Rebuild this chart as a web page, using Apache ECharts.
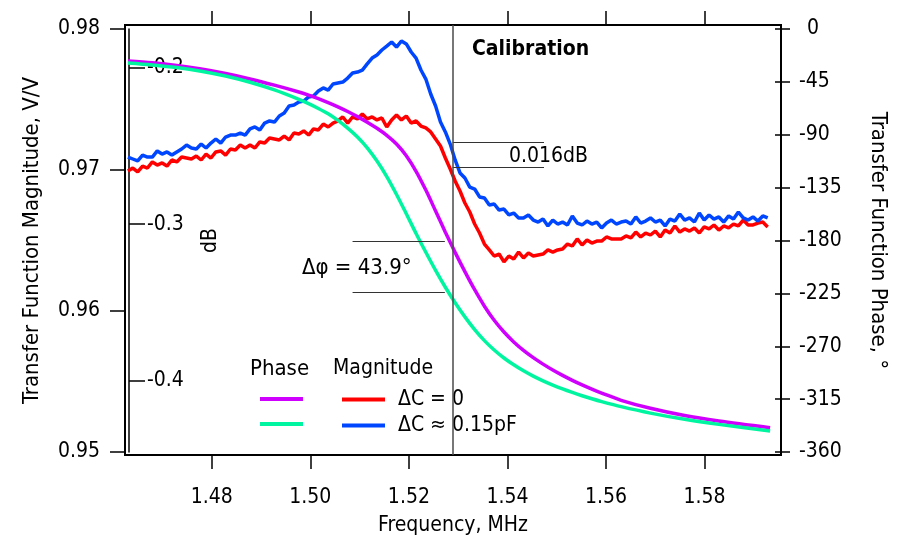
<!DOCTYPE html>
<html>
<head>
<meta charset="utf-8">
<script src="https://cdn.jsdelivr.net/npm/echarts@6/dist/echarts.min.js"></script>
<style>
  html, body { margin: 0; padding: 0; background: #fff; }
  #chart { width: 897px; height: 541px; }
</style>
</head>
<body>
<div id="chart"></div>
<script>
const FONT = '"DejaVu Sans Condensed", "DejaVu Sans", sans-serif';

// Sweep frequencies of the magnitude traces, MHz
const magFreq = [
  1.463, 1.464, 1.465, 1.466, 1.467, 1.468, 1.469, 1.470, 1.471, 1.472,
  1.473, 1.474, 1.475, 1.476, 1.477, 1.478, 1.479, 1.480, 1.481, 1.482,
  1.483, 1.484, 1.485, 1.486, 1.487, 1.488, 1.489, 1.490, 1.491, 1.492,
  1.493, 1.494, 1.495, 1.496, 1.497, 1.498, 1.499, 1.500, 1.501, 1.502,
  1.503, 1.504, 1.505, 1.506, 1.507, 1.508, 1.509, 1.510, 1.511, 1.512,
  1.513, 1.514, 1.515, 1.516, 1.517, 1.518, 1.519, 1.520, 1.521, 1.522,
  1.523, 1.524, 1.525, 1.526, 1.527, 1.528, 1.529, 1.530, 1.531, 1.532,
  1.533, 1.534, 1.535, 1.536, 1.537, 1.538, 1.539, 1.540, 1.541, 1.542,
  1.543, 1.544, 1.545, 1.546, 1.547, 1.548, 1.549, 1.550, 1.551, 1.552,
  1.553, 1.554, 1.555, 1.556, 1.557, 1.558, 1.559, 1.560, 1.561, 1.562,
  1.563, 1.564, 1.565, 1.566, 1.567, 1.568, 1.569, 1.570, 1.571, 1.572,
  1.573, 1.574, 1.575, 1.576, 1.577, 1.578, 1.579, 1.580, 1.581, 1.582,
  1.583, 1.584, 1.585, 1.586, 1.587, 1.588, 1.589, 1.590, 1.591, 1.592,
  1.593, 1.594
];

// Magnitude, V/V, with ΔC = 0
const magRef = [
  0.96993, 0.97014, 0.96986, 0.97028, 0.97014, 0.97057, 0.97035, 0.97050, 0.97028, 0.97071,
  0.97057, 0.97092, 0.97085, 0.97078, 0.97099, 0.97071, 0.97113, 0.97085, 0.97128, 0.97135,
  0.97106, 0.97149, 0.97142, 0.97177, 0.97156, 0.97177, 0.97156, 0.97199, 0.97191, 0.97227,
  0.97220, 0.97213, 0.97241, 0.97213, 0.97262, 0.97255, 0.97277, 0.97248, 0.97291, 0.97284,
  0.97326, 0.97305, 0.97333, 0.97348, 0.97376, 0.97333, 0.97376, 0.97362, 0.97397, 0.97362,
  0.97376, 0.97355, 0.97369, 0.97305, 0.97355, 0.97390, 0.97355, 0.97383, 0.97333, 0.97348,
  0.97312, 0.97298, 0.97270, 0.97220, 0.97170, 0.97085, 0.97007, 0.96922, 0.96851, 0.96766,
  0.96702, 0.96617, 0.96553, 0.96475, 0.96433, 0.96390, 0.96404, 0.96348, 0.96390, 0.96369,
  0.96418, 0.96376, 0.96411, 0.96390, 0.96397, 0.96404, 0.96433, 0.96418, 0.96433, 0.96440,
  0.96475, 0.96461, 0.96511, 0.96468, 0.96504, 0.96482, 0.96496, 0.96496, 0.96525, 0.96511,
  0.96511, 0.96511, 0.96532, 0.96518, 0.96560, 0.96525, 0.96553, 0.96539, 0.96567, 0.96525,
  0.96574, 0.96553, 0.96603, 0.96560, 0.96582, 0.96567, 0.96589, 0.96553, 0.96596, 0.96582,
  0.96610, 0.96574, 0.96603, 0.96589, 0.96617, 0.96603, 0.96645, 0.96610, 0.96610, 0.96624,
  0.96631, 0.96596
];

// Magnitude, V/V, with ΔC ≈ 0.15 pF
const magCal = [
  0.97092, 0.97078, 0.97064, 0.97106, 0.97092, 0.97092, 0.97135, 0.97113, 0.97128, 0.97106,
  0.97128, 0.97149, 0.97177, 0.97156, 0.97149, 0.97184, 0.97156, 0.97191, 0.97220, 0.97191,
  0.97234, 0.97248, 0.97248, 0.97262, 0.97248, 0.97291, 0.97305, 0.97284, 0.97333, 0.97348,
  0.97340, 0.97383, 0.97404, 0.97454, 0.97461, 0.97482, 0.97489, 0.97518, 0.97525, 0.97560,
  0.97582, 0.97567, 0.97610, 0.97617, 0.97624, 0.97652, 0.97688, 0.97695, 0.97709, 0.97752,
  0.97794, 0.97816, 0.97851, 0.97879, 0.97908, 0.97872, 0.97915, 0.97894, 0.97837, 0.97794,
  0.97709, 0.97645, 0.97539, 0.97454, 0.97340, 0.97270, 0.97184, 0.97071, 0.96979, 0.96943,
  0.96879, 0.96865, 0.96809, 0.96801, 0.96752, 0.96759, 0.96716, 0.96723, 0.96681, 0.96695,
  0.96660, 0.96660, 0.96681, 0.96645, 0.96631, 0.96652, 0.96603, 0.96645, 0.96617, 0.96631,
  0.96610, 0.96674, 0.96624, 0.96610, 0.96638, 0.96617, 0.96631, 0.96589, 0.96624, 0.96645,
  0.96617, 0.96631, 0.96638, 0.96617, 0.96667, 0.96624, 0.96638, 0.96660, 0.96631, 0.96645,
  0.96603, 0.96652, 0.96638, 0.96688, 0.96645, 0.96660, 0.96631, 0.96695, 0.96645, 0.96681,
  0.96652, 0.96667, 0.96631, 0.96674, 0.96652, 0.96702, 0.96660, 0.96645, 0.96667, 0.96638,
  0.96674, 0.96660
];

// Phase traces, degrees
const phaseFreq = [
  1.463, 1.468, 1.473, 1.478, 1.483, 1.488, 1.493, 1.498,
  1.500, 1.502, 1.504, 1.506, 1.508, 1.510, 1.512, 1.514, 1.516, 1.518,
  1.520, 1.522, 1.524, 1.526, 1.528, 1.530, 1.532, 1.534, 1.536, 1.538,
  1.540, 1.542, 1.544, 1.546, 1.548, 1.550, 1.552, 1.554, 1.556, 1.558,
  1.560, 1.564, 1.570, 1.577, 1.584, 1.5945
];
const phaseRef = [
  -27.2, -28.8, -31.1, -34.1, -37.9, -42.5, -47.8, -53.6,
  -56.3, -59.3, -62.6, -66.2, -70.2, -74.6, -79.3, -84.5, -90.5, -97.9,
  -107.9, -121.1, -137.1, -154.9, -172.9, -190.1, -206.5, -221.9, -235.9, -247.9,
  -257.9, -266.3, -273.5, -279.7, -285.2, -290.2, -294.8, -299.0, -302.9, -306.5,
  -309.8, -316.0, -322.8, -329.0, -333.6, -339.3
];
const phaseCal = [
  -28.9, -30.6, -32.8, -35.9, -40.0, -45.3, -51.8, -59.8,
  -63.5, -67.6, -72.2, -77.8, -84.4, -92.0, -101.2, -112.4, -125.6, -140.8,
  -157.2, -174.0, -190.0, -205.4, -219.8, -233.0, -245.0, -255.8, -265.2, -273.2,
  -280.0, -285.8, -290.9, -295.4, -299.4, -303.0, -306.3, -309.3, -312.1, -314.7,
  -317.1, -321.4, -326.9, -332.2, -336.5, -342.1
];

// Axis ticks
const freqTicks = [1.48, 1.50, 1.52, 1.54, 1.56, 1.58];
const dbTicks = [-0.4, -0.3, -0.2];

// Calibration marker and the readings taken on it
const markerFreq = 1.5288;
const phaseAtMarker = [-180.5, -224.4];   // ΔC = 0, ΔC ≈ 0.15 pF
const magAtMarker = [0.97199, 0.97021];   // ΔC ≈ 0.15 pF, ΔC = 0
const dphiSpan = [1.5090, 1.5279];
const dmagSpan = [1.5295, 1.5482];

const FMIN = 1.4624, FMAX = 1.5955;
const MAG_MIN = 0.95, MAG_MAX = 0.98;
const toDb = v => 20 * Math.log10(v);

const zip = (xs, ys) => xs.map((x, i) => [x, ys[i]]);

const C_RED = '#ff0000', C_BLUE = '#0046ff', C_MAG = '#d000ff', C_GRN = '#00f5a0';
const FS = 21;
const tickStyle = { color: '#000', width: 1.5 };
const lbl = { color: '#000', fontFamily: FONT, fontSize: FS };
const ttl = { color: '#000', fontFamily: FONT, fontSize: 22 };

const dphi = (phaseAtMarker[0] - phaseAtMarker[1]).toFixed(1);
const ddb = (toDb(magAtMarker[0]) - toDb(magAtMarker[1])).toFixed(3);

const chart = echarts.init(document.getElementById('chart'), null, { renderer: 'canvas' });

const bracket = (span, val) => [
  { coord: [span[0], val] }, { coord: [span[1], val] }
];
const bracketStyle = {
  silent: true, symbol: ['none', 'none'], label: { show: false }, precision: 6,
  lineStyle: { color: '#333', width: 1, type: 'solid' }, emphasis: { disabled: true },
  animation: false
};
const txt = (x, y, text, font) => ({
  type: 'text', x: x, y: y, silent: true,
  style: { text: text, font: font || (FS + 'px ' + FONT), fill: '#000', verticalAlign: 'middle' }
});

chart.setOption({
  animation: false,
  backgroundColor: '#fff',
  textStyle: { fontFamily: FONT, color: '#000' },
  grid: [
    { left: 125, right: 116, top: 25, bottom: 85, show: true,
      borderColor: '#000', borderWidth: 2, backgroundColor: 'transparent' },
    { left: 125, right: 116, top: 29, bottom: 89 }
  ],
  xAxis: [
    { gridIndex: 0, type: 'value', min: FMIN, max: FMAX, position: 'bottom',
      axisLine: { show: false }, splitLine: { show: false },
      axisTick: { show: true, length: 14, lineStyle: tickStyle, customValues: freqTicks },
      axisLabel: Object.assign({ margin: 32, customValues: freqTicks,
        formatter: v => v.toFixed(2) }, lbl),
      name: 'Frequency, MHz', nameLocation: 'middle', nameGap: 60,
      nameTextStyle: lbl },
    { gridIndex: 0, type: 'value', min: FMIN, max: FMAX, position: 'top',
      axisLine: { show: false }, splitLine: { show: false },
      axisTick: { show: true, length: 14, lineStyle: tickStyle, customValues: freqTicks },
      axisLabel: { show: false } },
    { gridIndex: 1, type: 'value', min: FMIN, max: FMAX, show: false }
  ],
  yAxis: [
    { gridIndex: 0, type: 'value', min: 0, max: 1, show: false },
    { gridIndex: 1, type: 'value', min: MAG_MIN, max: MAG_MAX, interval: 0.01, position: 'left',
      axisLine: { show: false }, splitLine: { show: false },
      axisTick: { show: true, length: 15, lineStyle: tickStyle },
      axisLabel: Object.assign({ margin: 25, formatter: v => v.toFixed(2) }, lbl),
      name: 'Transfer Function Magnitude, V/V', nameLocation: 'middle', nameRotate: 90,
      nameGap: 82, nameTextStyle: ttl },
    { gridIndex: 1, type: 'value', min: -360, max: 0, interval: 45, position: 'right',
      axisLine: { show: false }, splitLine: { show: false },
      axisTick: { show: true, length: 15, lineStyle: tickStyle },
      axisLabel: Object.assign({ margin: 24,
        formatter: v => v === 0 ? '{z|0}' : String(v),
        rich: { z: { padding: [0, 0, 0, 8], fontFamily: FONT, fontSize: FS, color: '#000' } } }, lbl),
      name: 'Transfer Function Phase, °', nameLocation: 'middle', nameRotate: -90,
      nameGap: 92, nameTextStyle: ttl },
    { gridIndex: 1, type: 'value', min: toDb(MAG_MIN), max: toDb(MAG_MAX), position: 'left',
      offset: -4,
      axisLine: { show: true, lineStyle: tickStyle }, splitLine: { show: false },
      axisTick: { show: true, inside: true, length: 16, lineStyle: tickStyle, customValues: dbTicks },
      axisLabel: Object.assign({ inside: true, margin: 18, customValues: dbTicks,
        formatter: v => v.toFixed(1) }, lbl),
      name: 'dB', nameLocation: 'middle', nameRotate: 90, nameGap: -92,
      nameTextStyle: lbl }
  ],
  legend: [
    { left: 255, top: 392, orient: 'vertical', icon: 'rect', itemWidth: 43, itemHeight: 4,
      itemGap: 21, selectedMode: false, formatter: () => '',
      textStyle: { fontFamily: FONT, fontSize: FS, color: '#000' },
      data: ['Phase, ΔC = 0', 'Phase, ΔC ≈ 0.15pF'] },
    { left: 337, top: 384, orient: 'vertical', icon: 'rect', itemWidth: 43, itemHeight: 4,
      itemGap: 5, selectedMode: false,
      textStyle: { fontFamily: FONT, fontSize: FS, color: '#000', padding: [0, 0, 0, 8] },
      data: ['ΔC = 0', 'ΔC ≈ 0.15pF'] }
  ],
  graphic: [
    txt(250, 369, 'Phase', '22px ' + FONT),
    txt(333, 369, 'Magnitude'),
    txt(472, 50, 'Calibration', 'bold 21px ' + FONT),
    txt(302, 268, 'Δφ = ' + dphi + '°', '22px ' + FONT),
    txt(509, 157, ddb + 'dB')
  ],
  series: [
    { name: 'ΔC = 0', type: 'line', xAxisIndex: 2, yAxisIndex: 1, data: zip(magFreq, magRef),
      showSymbol: false, color: C_RED, lineStyle: { color: C_RED, width: 3.5 }, z: 2,
      markLine: Object.assign({ data: [bracket(dmagSpan, magAtMarker[1])] }, bracketStyle) },
    { name: 'ΔC ≈ 0.15pF', type: 'line', xAxisIndex: 2, yAxisIndex: 1, data: zip(magFreq, magCal),
      showSymbol: false, color: C_BLUE, lineStyle: { color: C_BLUE, width: 3.5 }, z: 2,
      markLine: Object.assign({ data: [bracket(dmagSpan, magAtMarker[0])] }, bracketStyle) },
    { name: 'Phase, ΔC = 0', type: 'line', xAxisIndex: 2, yAxisIndex: 2, data: zip(phaseFreq, phaseRef),
      showSymbol: false, smooth: 0.3, color: C_MAG,
      lineStyle: { color: C_MAG, width: 3.5 }, z: 3,
      markLine: Object.assign({ data: [bracket(dphiSpan, phaseAtMarker[0])] }, bracketStyle) },
    { name: 'Phase, ΔC ≈ 0.15pF', type: 'line', xAxisIndex: 2, yAxisIndex: 2, data: zip(phaseFreq, phaseCal),
      showSymbol: false, smooth: 0.3, color: C_GRN,
      lineStyle: { color: C_GRN, width: 3.5 }, z: 3,
      markLine: Object.assign({ data: [bracket(dphiSpan, phaseAtMarker[1])] }, bracketStyle) },
    { name: 'marker', type: 'line', xAxisIndex: 0, yAxisIndex: 0, data: [], z: 5,
      markLine: { silent: true, symbol: ['none', 'none'], label: { show: false }, precision: 6,
        lineStyle: { color: '#4a4a4a', width: 1.5, type: 'solid' }, animation: false,
        data: [[{ coord: [markerFreq, 0] }, { coord: [markerFreq, 1] }]] } }
  ]
});
</script>
</body>
</html>
